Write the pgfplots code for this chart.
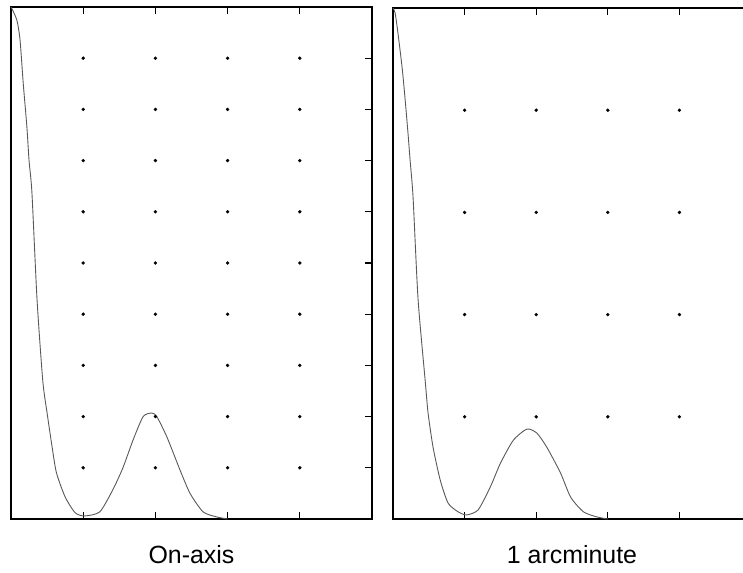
\documentclass[border=0pt]{standalone}
\usepackage{pgfplots}
\pgfplotsset{compat=1.18}
\usepackage{fontspec}
\setmainfont{Liberation Sans}

\pgfplotsset{
  mtfpanel/.style={
    scale only axis,
    anchor=south west,
    xmin=0, xmax=5,
    ymin=0, ymax=1,
    xtick={1,2,3,4},
    xticklabels={}, yticklabels={},
    ytick pos=right,
    tick align=inside,
    major tick length=7bp,
    tick style={line width=1.2bp, black},
    line width=2.2bp,
    axis line style={line width=2.2bp},
    xlabel style={font=\fontsize{25}{30}\selectfont,
      at={(axis description cs:0.5,0)}, anchor=base, yshift=-44bp},
    clip=false,
  },
  curve/.style={black!65, line width=0.9bp, smooth, tension=0.4, no marks},
  dots/.style={only marks, mark=*, mark size=1.5bp, black,
    mark options={line width=0.4bp}},
}

\begin{document}
\begin{tikzpicture}
  % on-axis
  \begin{axis}[mtfpanel, at={(11bp,54bp)}, width=361bp, height=512bp,
      ytick={0.1,0.2,...,0.9}, xlabel={On-axis}]
    \addplot[dots] coordinates {
      (1,0.1) (2,0.1) (3,0.1) (4,0.1)
      (1,0.2) (2,0.2) (3,0.2) (4,0.2)
      (1,0.3) (2,0.3) (3,0.3) (4,0.3)
      (1,0.4) (2,0.4) (3,0.4) (4,0.4)
      (1,0.5) (2,0.5) (3,0.5) (4,0.5)
      (1,0.6) (2,0.6) (3,0.6) (4,0.6)
      (1,0.7) (2,0.7) (3,0.7) (4,0.7)
      (1,0.8) (2,0.8) (3,0.8) (4,0.8)
      (1,0.9) (2,0.9) (3,0.9) (4,0.9)
    };
    \addplot[curve] coordinates {
      (0,1.0) (0.08,0.975) (0.125,0.936) (0.17,0.85) (0.22,0.766)
      (0.25,0.70) (0.29,0.637) (0.36,0.43) (0.44,0.27) (0.50,0.207)
      (0.57,0.14) (0.63,0.09) (0.75,0.043) (0.89,0.012) (1.02,0.006)
      (1.23,0.014) (1.41,0.057) (1.55,0.10) (1.69,0.154) (1.83,0.20)
      (1.95,0.207) (2.02,0.20) (2.16,0.16) (2.34,0.096) (2.48,0.05)
      (2.66,0.014) (2.85,0.004) (3.0,0.0)
    };
  \end{axis}
  % 1 arcminute off axis
  \begin{axis}[mtfpanel, at={(393bp,54bp)}, width=358bp, height=511bp,
      ytick={0.2,0.4,0.6,0.8}, xlabel={1 arcminute}]
    \addplot[dots] coordinates {
      (1,0.2) (2,0.2) (3,0.2) (4,0.2)
      (1,0.4) (2,0.4) (3,0.4) (4,0.4)
      (1,0.6) (2,0.6) (3,0.6) (4,0.6)
      (1,0.8) (2,0.8) (3,0.8) (4,0.8)
    };
    \addplot[curve] coordinates {
      (0,1.0) (0.03,0.99) (0.07,0.95) (0.13,0.88) (0.17,0.82)
      (0.21,0.754) (0.24,0.70) (0.28,0.63) (0.35,0.43) (0.45,0.27)
      (0.49,0.207) (0.56,0.14) (0.66,0.076) (0.77,0.031) (0.91,0.014)
      (1.03,0.008) (1.19,0.018) (1.36,0.063) (1.50,0.109) (1.68,0.154)
      (1.87,0.176) (2.01,0.168) (2.15,0.14) (2.34,0.09) (2.48,0.043)
      (2.66,0.014) (2.85,0.004) (3.0,0.0)
    };
  \end{axis}
  % the scan cuts the right panel off at its right edge
  \pgfresetboundingbox
  \useasboundingbox (0,0) rectangle (743bp,573bp);
\end{tikzpicture}
\end{document}
